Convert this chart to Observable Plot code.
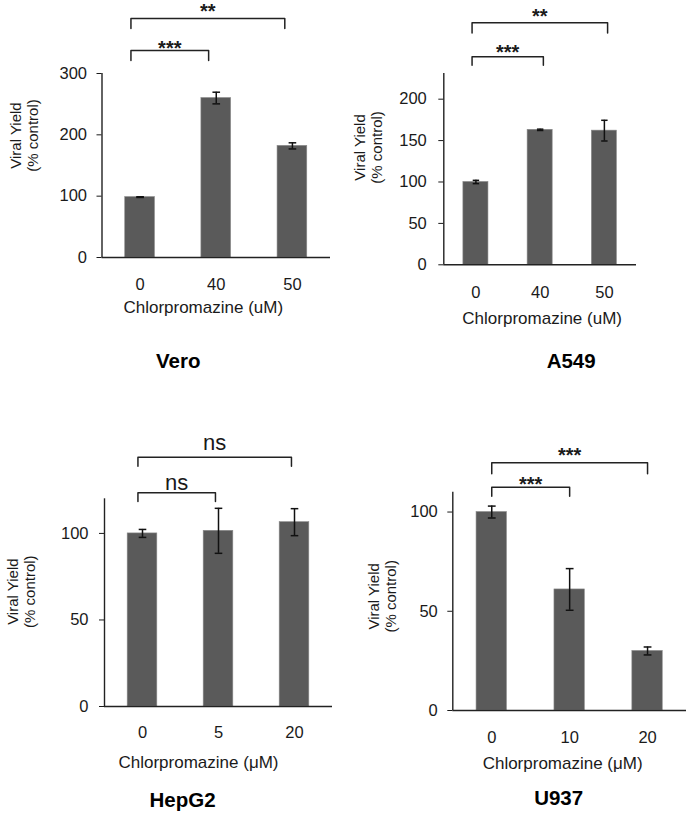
<!DOCTYPE html>
<html><head><meta charset="utf-8">
<script src="https://cdn.jsdelivr.net/npm/d3@7"></script>
<script src="https://cdn.jsdelivr.net/npm/@observablehq/plot@0.6"></script>
<style>
body{margin:0;background:#fff;}
#root{position:relative;width:690px;height:815px;overflow:hidden;}
.panel{position:absolute;}
</style></head><body><div id="root"></div>
<script>
// ---- data ----
const cellLines = ["Vero", "A549", "HepG2", "U937"];
const xLabels = ["Chlorpromazine (uM)", "Chlorpromazine (uM)", "Chlorpromazine (μM)", "Chlorpromazine (μM)"];
const yLabel = "Viral Yield\n(% control)";

const veroDoses = ["0", "40", "50"];
const veroYield = [98.5, 260, 182];
const veroErr = [0.6, 9.5, 5];
const veroTicks = [0, 100, 200, 300];
const veroSig = ["***", "**"];

const a549Doses = ["0", "40", "50"];
const a549Yield = [100, 163, 162];
const a549Err = [2, 0.8, 12.5];
const a549Ticks = [0, 50, 100, 150, 200];
const a549Sig = ["***", "**"];

const hepg2Doses = ["0", "5", "20"];
const hepg2Yield = [100, 101.5, 106.5];
const hepg2Err = [2.3, 13, 7.8];
const hepg2Ticks = [0, 50, 100];
const hepg2Sig = ["ns", "ns"];

const u937Doses = ["0", "10", "20"];
const u937Yield = [100, 61, 30];
const u937Err = [3, 10.5, 2];
const u937Ticks = [0, 50, 100];
const u937Sig = ["***", "***"];

// comparisons: control vs each dose
const comparisons = [[0, 1], [0, 2]];

const FONT = "'Liberation Sans', Arial, sans-serif";

function panel(cfg) {
  const n = cfg.doses.length;
  const rows = cfg.doses.map((d, i) => ({i, dose: d, v: cfg.values[i], e: cfg.errors[i]}));
  const hw = 0.195, cap = 0.05;
  const caps = rows.flatMap(r => [{i: r.i, y: r.v - r.e}, {i: r.i, y: r.v + r.e}]);
  const brLines = [], brText = [];
  comparisons.forEach(([a, b], k) => {
    const L = cfg.layout.br[k];
    const xa = a + cfg.layout.brOff[0], xb = b + cfg.layout.brOff[1];
    brLines.push({id: k, x: xa, y: L[1]}, {id: k, x: xa, y: L[0]}, {id: k, x: xb, y: L[0]}, {id: k, x: xb, y: L[1]});
    brText.push({x: (xa + xb) / 2, y: L[2], t: cfg.sig[k]});
  });
  const ly = cfg.layout;
  const isStar = cfg.sig[0].startsWith("*");
  const centered = {textAnchor: "middle", lineAnchor: "middle"};
  return Plot.plot({
    width: ly.width, height: ly.height,
    marginLeft: ly.ml, marginRight: ly.mr, marginTop: ly.mt, marginBottom: ly.mb,
    x: {type: "linear", domain: [-0.5, n - 0.5]},
    y: {domain: [0, cfg.yMax]},
    style: {fontFamily: FONT, fontSize: "16px", color: "#1a1a1a", background: "transparent", overflow: "visible"},
    marks: [
      Plot.rectY(rows, {x1: d => d.i - hw, x2: d => d.i + hw, y1: 0, y2: "v", fill: "#5a5a5a", stroke: "#8a8a8a", strokeWidth: 0.6}),
      Plot.ruleX(rows, {x: "i", y1: d => d.v - d.e, y2: d => d.v + d.e, stroke: "#111", strokeWidth: 1.5}),
      Plot.link(caps, {x1: d => d.i - cap, x2: d => d.i + cap, y1: "y", y2: "y", stroke: "#111", strokeWidth: 1.5}),
      Plot.ruleY([0], {stroke: "#222", strokeWidth: 1.4}),
      Plot.ruleX([-0.5], {y1: 0, y2: cfg.yMax, stroke: "#222", strokeWidth: 1.4}),
      Plot.axisY({ticks: cfg.ticks, tickSize: 5, tickPadding: ly.ytp, label: null, fontSize: 16.5, tickFormat: d => String(d)}),
      Plot.axisX({ticks: d3.range(n), tickFormat: i => cfg.doses[i], tickSize: 0, tickPadding: ly.xtp, label: null, fontSize: 16.5}),
      Plot.line(brLines, {x: "x", y: "y", z: "id", stroke: "#222", strokeWidth: 1.5}),
      Plot.text(brText, {x: "x", y: "y", text: "t", ...centered, fontSize: isStar ? 20 : 22, fontWeight: isStar ? "bold" : "normal", dy: isStar ? 5 : 0, fill: "#1a1a1a", letterSpacing: isStar ? 1 : 0}),
      Plot.text([yLabel], {frameAnchor: "left", ...centered, rotate: -90, dx: ly.ylx, dy: ly.yly, fontSize: 15, lineHeight: 1.12, fill: "#1a1a1a"}),
      Plot.text([cfg.xLabel], {frameAnchor: "bottom", ...centered, dx: ly.xlx, dy: ly.xly, fontSize: 17, fill: "#1a1a1a"}),
      Plot.text([cfg.title], {frameAnchor: "bottom", ...centered, dx: ly.tx, dy: ly.ty, fontSize: 20.5, fontWeight: "bold", fill: "#000"})
    ]
  });
}

const panels = [
  {title: cellLines[0], xLabel: xLabels[0], doses: veroDoses, values: veroYield, errors: veroErr, ticks: veroTicks, sig: veroSig, yMax: 300,
   pos: [0, 0], layout: {width: 345, height: 400, ml: 101.5, mr: 15, mt: 73, mb: 143, ytp: 10, xtp: 21, ylx: -77.5, yly: -30, xlx: -13, xly: 50, tx: -38, ty: 104,
   brOff: [-0.12, -0.1], br: [[337.5, 321.2, 349], [389.7, 373.4, 409]]}},
  {title: cellLines[1], xLabel: xLabels[1], doses: a549Doses, values: a549Yield, errors: a549Err, ticks: a549Ticks, sig: a549Sig, yMax: 231,
   pos: [345, 0], layout: {width: 345, height: 400, ml: 98.3, mr: 54, mt: 73, mb: 135.7, ytp: 12, xtp: 21.5, ylx: -75.3, yly: -21.7, xlx: 2, xly: 53.7, tx: 31, ty: 96.7,
   brOff: [-0.06, 0.05], br: [[251.2, 241.1, 261.7], [292.3, 279.9, 305.6]]}},
  {title: cellLines[2], xLabel: xLabels[2], doses: hepg2Doses, values: hepg2Yield, errors: hepg2Err, ticks: hepg2Ticks, sig: hepg2Sig, yMax: 120,
   pos: [0, 400], layout: {width: 345, height: 415, ml: 104, mr: 13, mt: 98.3, mb: 109, ytp: 11, xtp: 19.5, ylx: -83, yly: -11, xlx: -20, xly: 55.7, tx: -36, ty: 94,
   brOff: [-0.06, -0.04], br: [[123.5, 118.4, 129.1], [144, 138.8, 152.2]]}},
  {title: cellLines[3], xLabel: xLabels[3], doses: u937Doses, values: u937Yield, errors: u937Err, ticks: u937Ticks, sig: u937Sig, yMax: 110,
   pos: [345, 400], layout: {width: 345, height: 415, ml: 107.3, mr: 4, mt: 91.7, mb: 105, ytp: 10, xtp: 20.5, ylx: -70.8, yly: -5, xlx: -7, xly: 53.3, tx: -11, ty: 88.3,
   brOff: [0, 0], br: [[112.5, 107.9, 116.4], [124.8, 119.3, 131]]}}
];

const root = document.getElementById("root");
for (const p of panels) {
  const div = document.createElement("div");
  div.className = "panel";
  div.style.left = p.pos[0] + "px";
  div.style.top = p.pos[1] + "px";
  div.appendChild(panel(p));
  root.appendChild(div);
}
</script>
</body></html>
